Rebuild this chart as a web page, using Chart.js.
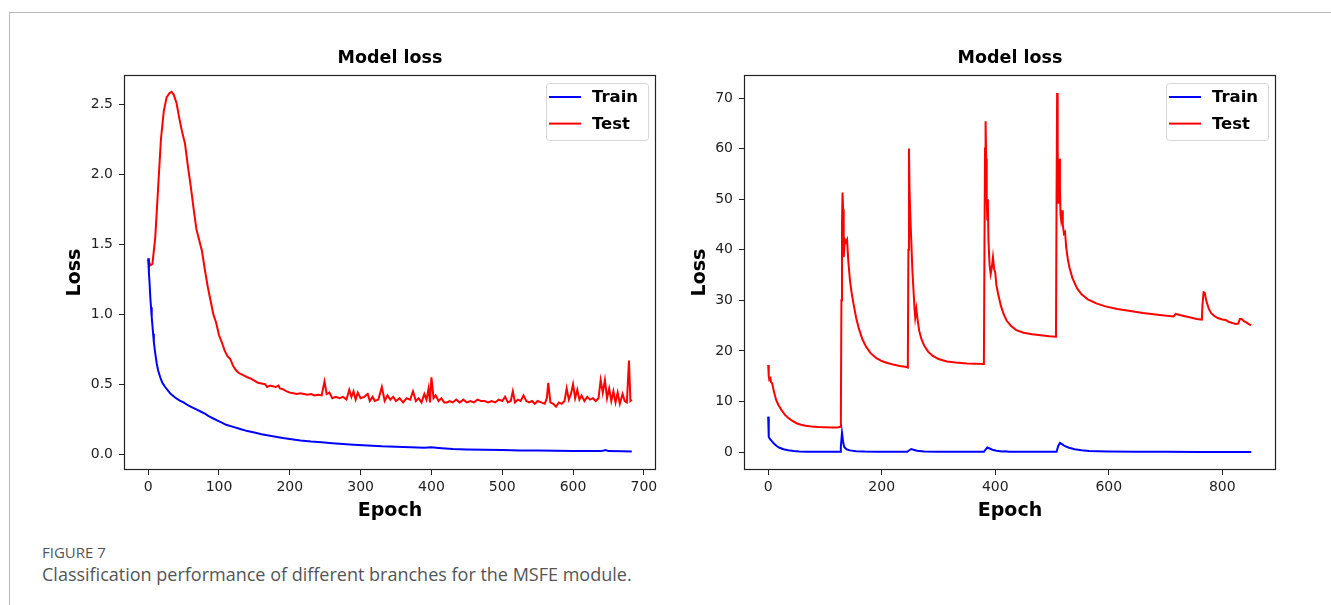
<!DOCTYPE html>
<html>
<head>
<meta charset="utf-8">
<script src="https://cdn.jsdelivr.net/npm/chart.js@4.4.0/dist/chart.umd.min.js"></script>
<style>
  html, body { margin:0; padding:0; background:#fff; width:1331px; height:605px; overflow:hidden; }
  .frame { position:absolute; left:9px; top:12px; width:1330px; height:600px; border-top:1px solid #b8b8b8; border-left:1px solid #b8b8b8; }
  canvas { position:absolute; }
  #lossA { left:40px; top:30px; }
  #lossB { left:660px; top:30px; }
  .fig-no  { position:absolute; left:42px; top:542px; font:15px "Open Sans", sans-serif; color:#555; }
  .fig-cap { position:absolute; left:42px; top:562px; font:18px "Open Sans", sans-serif; color:#555; }
</style>
</head>
<body>
<div class="frame"></div>
<canvas id="lossA" width="640" height="500"></canvas>
<canvas id="lossB" width="640" height="500"></canvas>
<div class="fig-no">FIGURE 7</div>
<div class="fig-cap">Classification performance of different branches for the MSFE module.</div>
<script>
// -- DATA
const chartTitle  = 'Model loss';
const seriesNames = ['Train', 'Test'];

// left panel
const epochTicksA = [0, 100, 200, 300, 400, 500, 600, 700];
const lossTicksA  = [0, 0.5, 1.0, 1.5, 2.0, 2.5];
const trainEpochA = [0,1,2,3,4,5,6,7,8,10,12,14,17,20,24,28,32,38,44,50,56,62,68,74,80,86,92,98,104,110,120,130,140,150,160,170,180,190,200,215,230,245,260,275,290,310,330,350,370,390,400,410,430,450,475,500,525,550,575,600,625,640,646,650,670,683];
const trainLossA  = [1.40,1.30,1.22,1.12,1.05,0.98,0.92,0.86,0.80,0.72,0.65,0.60,0.55,0.51,0.48,0.455,0.43,0.405,0.385,0.37,0.35,0.335,0.32,0.305,0.29,0.27,0.255,0.24,0.225,0.21,0.195,0.18,0.165,0.155,0.143,0.133,0.124,0.115,0.108,0.098,0.09,0.085,0.078,0.072,0.067,0.062,0.056,0.053,0.05,0.046,0.05,0.045,0.037,0.034,0.032,0.03,0.027,0.026,0.024,0.023,0.022,0.022,0.03,0.022,0.021,0.02];
const testEpochA  = [0,3,6,10,14,18,22,26,30,33,36,40,44,48,52,56,60,64,68,72,76,80,84,88,92,96,100,104,108,112,116,120,124,128,132,136,140,145,150,155,160,165,168,172,176,180,184,186,190,195,200,205,210,215,220,225,230,235,240,245,249,252,256,260,265,270,275,280,284,287,290,293,296,300,305,310,313,317,320,325,330,334,338,342,346,350,355,360,365,370,374,378,382,386,390,393,396,398,400,403,406,410,414,418,422,426,430,435,440,445,450,455,460,465,470,475,480,485,490,495,500,504,508,512,515,518,522,526,530,534,538,542,546,550,555,560,563,565,568,572,576,580,584,588,591,594,597,600,603,606,609,612,616,620,624,628,632,636,639,642,645,648,651,654,657,660,663,666,670,673,676,679,681,683];
const testLossA   = [1.39,1.35,1.36,1.55,1.90,2.25,2.45,2.55,2.58,2.59,2.57,2.51,2.40,2.30,2.22,2.06,1.92,1.76,1.61,1.53,1.45,1.32,1.20,1.10,1.00,0.94,0.85,0.80,0.74,0.70,0.68,0.63,0.60,0.58,0.57,0.56,0.55,0.54,0.525,0.51,0.505,0.50,0.48,0.49,0.485,0.48,0.49,0.47,0.465,0.45,0.44,0.435,0.43,0.435,0.43,0.425,0.43,0.42,0.425,0.42,0.52,0.43,0.44,0.40,0.41,0.40,0.41,0.39,0.46,0.41,0.45,0.39,0.44,0.40,0.41,0.43,0.38,0.41,0.38,0.39,0.48,0.38,0.42,0.39,0.41,0.38,0.40,0.37,0.40,0.39,0.45,0.38,0.40,0.37,0.43,0.39,0.47,0.37,0.55,0.40,0.42,0.38,0.40,0.37,0.37,0.38,0.37,0.39,0.37,0.39,0.37,0.38,0.37,0.39,0.38,0.38,0.37,0.38,0.37,0.39,0.38,0.41,0.37,0.38,0.45,0.37,0.39,0.38,0.42,0.38,0.37,0.38,0.36,0.38,0.37,0.36,0.40,0.51,0.37,0.36,0.34,0.37,0.36,0.38,0.47,0.39,0.43,0.50,0.40,0.46,0.39,0.42,0.38,0.41,0.39,0.40,0.38,0.40,0.53,0.44,0.53,0.40,0.47,0.38,0.45,0.37,0.44,0.36,0.43,0.38,0.37,0.67,0.38,0.39];

// right panel
const epochTicksB = [0, 200, 400, 600, 800];
const lossTicksB  = [0, 10, 20, 30, 40, 50, 60, 70];
const trainEpochB = [0,1,3,6,10,15,20,27,35,45,55,70,90,110,127,128,130,132,134,138,144,155,170,190,220,245,248,252,256,262,275,300,340,380,383,386,390,395,402,412,418,424,450,480,508,511,514,517,522,530,540,552,565,580,600,650,700,760,800,851];
const trainLossB  = [7.0,3.0,2.6,2.2,1.7,1.2,0.85,0.55,0.35,0.2,0.12,0.07,0.05,0.04,0.04,1.0,3.8,2.0,1.0,0.55,0.33,0.18,0.1,0.06,0.05,0.05,0.3,0.6,0.45,0.25,0.1,0.05,0.04,0.04,0.5,0.9,0.7,0.45,0.25,0.1,0.15,0.08,0.05,0.04,0.04,1.2,1.8,1.6,1.2,0.85,0.55,0.35,0.22,0.15,0.1,0.06,0.04,0.03,0.03,0.03];
const testEpochB  = [0,1,2,4,5,7,10,14,18,24,30,36,42,50,58,66,76,88,100,112,122,128,129,130,131,132,133,135,137,139,141,144,147,150,155,160,166,172,180,190,200,210,220,232,244,246,247,248,249,250,252,254,256,258,259,261,263,266,270,275,282,290,300,315,330,350,365,380,381,382,383,384,385,386,387,388,390,392,394,396,398,400,402,405,410,415,420,428,437,450,465,480,495,507,508,509,510,511,512,513,514,515,516,518,519,521,523,525,528,531,536,544,552,563,578,594,615,638,660,690,714,718,725,740,755,764,765,767,769,772,776,780,786,792,800,806,812,818,824,828,831,834,838,843,848,851];
const testLossB   = [17.2,15.0,14.3,14.6,13.8,13.6,12.0,10.3,9.3,8.2,7.3,6.7,6.2,5.7,5.4,5.2,5.05,4.95,4.9,4.85,4.85,5.0,30,45,51.3,48,38.6,42,41.5,42.0,38,34,31.5,29.5,26.5,24.3,22.3,20.9,19.6,18.6,18.0,17.6,17.3,17.0,16.8,16.7,40,60.0,52,48,42,36,32,28.0,26.6,28.3,26.4,24.0,22.3,21.0,19.8,19.0,18.4,17.9,17.7,17.5,17.45,17.4,40,60,65.4,58,50,46,50,42,37,35.2,36.5,38.5,36.2,35.5,33,31.3,28.9,27.2,26.0,24.9,24.1,23.6,23.3,23.1,22.9,22.8,50,71.0,60,49.3,54,58,52,47,46,47.8,45,43.2,43.5,40.5,38,36.4,34.4,32.4,31.2,30.2,29.4,28.8,28.3,27.9,27.5,27.1,26.8,27.3,27.1,26.7,26.3,26.2,29,31.6,31.5,29.8,28.4,27.5,26.9,26.5,26.2,26.1,25.7,25.5,25.3,25.4,26.3,26.3,25.9,25.6,25.2,25.1];

// -- HELPERS
const ink  = '#222';
const FONT = 'DejaVu Sans';
const pts  = (xs, ys) => xs.map((x, i) => ({ x, y: ys[i] }));

// spines all round + title centred over the plot area
const frameBox = {
  id: 'frameBox',
  afterDatasetsDraw(chart) {
    const a = chart.chartArea, c = chart.ctx;
    c.save();
    c.strokeStyle = ink; c.lineWidth = 1.2;
    c.strokeRect(Math.round(a.left) + 0.5, Math.round(a.top) + 0.5,
                 Math.round(a.right - a.left) - 1, Math.round(a.bottom - a.top) - 1);
    c.fillStyle = '#000';
    c.font = 'bold 17.5px "' + FONT + '"';
    c.textAlign = 'center'; c.textBaseline = 'middle';
    c.fillText(chartTitle, (a.left + a.right) / 2, a.top - 17);
    c.restore();
  }
};

// matplotlib-like legend box in the upper right corner
const boxLegend = {
  id: 'boxLegend',
  afterDraw(chart) {
    const a = chart.chartArea, c = chart.ctx;
    const w = 102, h = 57, x = Math.round(a.right - 8 - w), y = Math.round(a.top + 8);
    c.save();
    c.beginPath();
    c.roundRect(x + 0.5, y + 0.5, w, h, 3);
    c.fillStyle = 'rgba(255,255,255,0.85)'; c.fill();
    c.strokeStyle = '#d6d6d6'; c.lineWidth = 1; c.stroke();
    c.font = 'bold 16.5px "' + FONT + '"';
    c.textBaseline = 'middle';
    chart.data.datasets.forEach((ds, i) => {
      const ly = y + 14 + i * 26.6;
      c.strokeStyle = ds.borderColor; c.lineWidth = 2;
      c.beginPath(); c.moveTo(x + 3, ly); c.lineTo(x + 35, ly); c.stroke();
      c.fillStyle = '#000';
      c.fillText(ds.label, x + 46, ly + 1);
    });
    c.restore();
  }
};

function lossChart(id, train, test, xRange, yRange, xTicks, yTicks, yFmt, lossPad) {
  return new Chart(document.getElementById(id), {
    type: 'line',
    data: {
      datasets: [
        { label: seriesNames[0], data: train, borderColor: '#0000ff', borderWidth: 2, pointRadius: 0, tension: 0, fill: false },
        { label: seriesNames[1], data: test,  borderColor: '#ff0000', borderWidth: 2, pointRadius: 0, tension: 0, fill: false }
      ]
    },
    options: {
      responsive: false, animation: false, events: [],
      layout: { padding: { left: 0, right: 24, top: 45, bottom: 0 } },
      plugins: {
        legend: { display: false },
        tooltip: { enabled: false },
        title: { display: false }
      },
      scales: {
        x: {
          type: 'linear', min: xRange[0], max: xRange[1],
          afterBuildTicks: s => { s.ticks = xTicks.map(v => ({ value: v })); },
          afterFit: s => { s.height = 60; },
          grid: { drawOnChartArea: false, drawTicks: true, tickLength: 5, color: ink },
          border: { display: false },
          ticks: { color: ink, font: { family: FONT, size: 14 }, padding: 4, maxRotation: 0 },
          title: { display: true, text: 'Epoch', color: '#000',
                   font: { family: FONT, size: 19, weight: 'bold' }, padding: { top: 0, bottom: 7.6 } }
        },
        y: {
          type: 'linear', min: yRange[0], max: yRange[1],
          afterBuildTicks: s => { s.ticks = yTicks.map(v => ({ value: v })); },
          afterFit: s => { s.width = 84; },
          grid: { drawOnChartArea: false, drawTicks: true, tickLength: 5, color: ink },
          border: { display: false },
          ticks: { color: ink, font: { family: FONT, size: 14 }, padding: 6, callback: yFmt },
          title: { display: true, text: 'Loss', color: '#000',
                   font: { family: FONT, size: 19, weight: 'bold' }, padding: { top: lossPad, bottom: 0 } }
        }
      }
    },
    plugins: [frameBox, boxLegend]
  });
}

// -- CHARTS
lossChart('lossA', pts(trainEpochA, trainLossA), pts(testEpochA, testLossA),
  [-34.15, 717.15], [-0.113, 2.71], epochTicksA, lossTicksA, v => v.toFixed(1), 24);
lossChart('lossB', pts(trainEpochB, trainLossB), pts(testEpochB, testLossB),
  [-42.6, 894.6], [-3.55, 74.55], epochTicksB, lossTicksB, v => String(v), 29);
</script>
</body>
</html>
